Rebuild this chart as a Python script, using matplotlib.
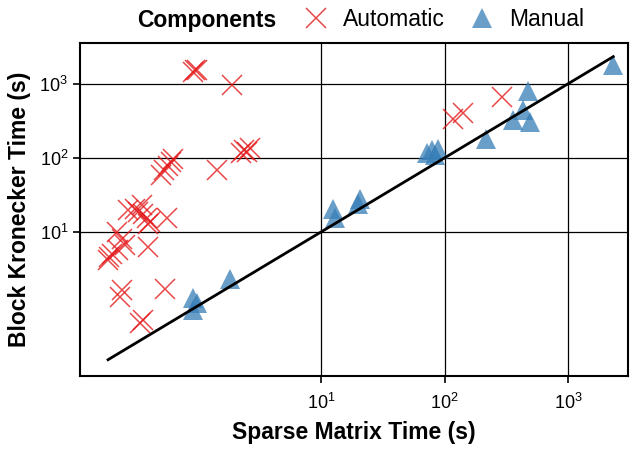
import matplotlib
matplotlib.use("Agg")
import matplotlib.pyplot as plt
from matplotlib.lines import Line2D
from matplotlib.ticker import FixedLocator, NullLocator

plt.rcParams['font.family'] = ['Liberation Sans', 'DejaVu Sans']

# Automatic components: (sparse matrix time, block kronecker time) in seconds
auto_sparse = [0.93, 0.957, 0.99, 1.90, 1.44, 2.25, 2.39, 2.52, 2.67,
               0.51, 0.54, 0.58, 0.61, 0.64,
               0.313, 0.356, 0.366, 0.39, 0.333, 0.415, 0.277, 0.566, 0.40, 0.40,
               0.223, 0.245, 0.26, 0.23, 0.195, 0.205, 0.19,
               0.245, 0.237, 0.548, 0.344, 0.364,
               117, 141, 289]
auto_block = [1430, 1510, 1545, 948, 68, 115, 126, 119, 134,
              58, 68, 77, 87, 96,
              20.7, 22.9, 17.7, 15.2, 18.6, 13.6, 19.6, 15.2, 12.7, 6.2,
              10.0, 8.1, 6.6, 5.7, 4.6, 5.1, 4.2,
              1.64, 1.33, 1.73, 0.60, 0.645,
              337, 402, 659]

# Manual components
manual_sparse = [2307, 474, 432, 359, 490, 216, 78.5, 88.8, 72, 83.5,
                 20.7, 20.0, 12.6, 13.0, 1.84, 0.93, 0.93, 0.99]
manual_block = [1768, 795, 437, 327, 304, 181, 126, 133, 115, 108,
                28.2, 24.2, 20.7, 15.2, 2.36, 1.28, 0.89, 1.10]

red = '#E41A1C'
blue = '#377EB8'

fig = plt.figure(figsize=(6.33, 4.49), dpi=100)
ax = fig.add_axes([80 / 633, 73 / 449, 548 / 633, 333 / 449])
ax.set_xscale('log')
ax.set_yscale('log')
ax.set_xlim(0.1127, 3034)
ax.set_ylim(0.1146, 3524)

ax.set_axisbelow(True)
ax.grid(True, which='major', color='black', linewidth=0.9)

ax.plot(auto_sparse, auto_block, linestyle='None', marker='x', markersize=14.5,
        markeredgewidth=1.1, color=red, alpha=0.8, zorder=3)
ax.plot(manual_sparse, manual_block, linestyle='None', marker='^', markersize=14.5,
        markeredgewidth=0, color=blue, alpha=0.75, zorder=3)

all_x = auto_sparse + manual_sparse
lo, hi = min(all_x), max(all_x)
ax.plot([lo, hi], [lo, hi], color='black', linewidth=2.0, zorder=4)

for axis in (ax.xaxis, ax.yaxis):
    axis.set_major_locator(FixedLocator([10, 100, 1000]))
    axis.set_minor_locator(NullLocator())
ax.tick_params(direction='out', length=5, width=1.2, color='black', labelsize=13,
               labelcolor='black')
ax.tick_params(axis='x', pad=7)
for s in ax.spines.values():
    s.set_linewidth(1.5)
    s.set_color('black')

ax.set_xlabel('Sparse Matrix Time (s)', fontsize=16.5, fontweight='bold', labelpad=6)
ax.set_ylabel('Block Kronecker Time (s)', fontsize=16.5, fontweight='bold', labelpad=6)

fig.text(207 / 633, 1 - 20 / 449, 'Components', fontsize=16.5, fontweight='bold',
         ha='center', va='center')
handles = [
    Line2D([0], [0], linestyle='None', marker='x', markersize=14.5, markeredgewidth=1.1,
           color=red, alpha=0.8),
    Line2D([0], [0], linestyle='None', marker='^', markersize=14.5, markeredgewidth=0,
           color=blue, alpha=0.75),
]
fig.legend(handles, ['Automatic', 'Manual'], ncol=2, frameon=False, fontsize=16.5,
           loc='center left', bbox_to_anchor=(293 / 633, 1 - 20 / 449),
           handlelength=1.2, handletextpad=0.6, columnspacing=1.0, borderaxespad=0)

fig.savefig('out.png', dpi=100)
